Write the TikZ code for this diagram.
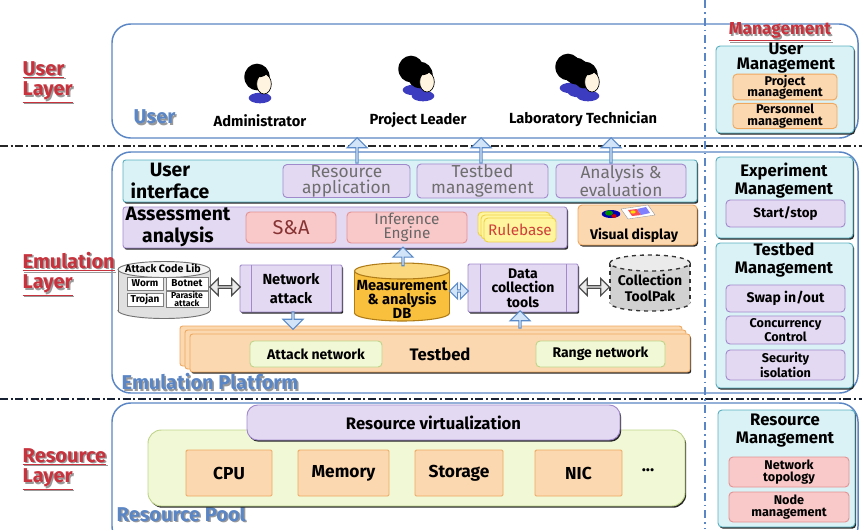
\documentclass[tikz,border=0pt]{standalone}
\usepackage{fontspec}
\setmainfont{Fira Sans}
\usetikzlibrary{shapes.geometric,shapes.arrows,shadows,calc}

\definecolor{frameblue}{HTML}{5B86C5}
\definecolor{layerred}{HTML}{C8323C}
\definecolor{cyanfill}{HTML}{DAF2F6}
\definecolor{cyanline}{HTML}{5AAFC0}
\definecolor{purplefill}{HTML}{E4D9F2}
\definecolor{purpleline}{HTML}{A08ACB}
\definecolor{pinkfill}{HTML}{F9C8C8}
\definecolor{pinkline}{HTML}{E39393}
\definecolor{orangefill}{HTML}{FCD8B0}
\definecolor{orangeline}{HTML}{EFA860}
\definecolor{greenfill}{HTML}{F1F8D6}
\definecolor{greenline}{HTML}{BFD48A}
\definecolor{dbfill}{HTML}{F8C03C}
\definecolor{dbtop}{HTML}{FBD77E}
\definecolor{dbline}{HTML}{B07C18}
\definecolor{arrowfill}{HTML}{D2E5F8}
\definecolor{arrowline}{HTML}{5B8AC8}
\definecolor{textgray}{HTML}{6E6E6E}
\definecolor{bodyblue}{HTML}{3C3CC0}
\definecolor{skin}{HTML}{FFF4E0}
\definecolor{ruleyellow}{HTML}{FFF59E}
\definecolor{ruleedge}{HTML}{EED24A}
\definecolor{rulered}{HTML}{D0403A}

\newcommand\fsz[2]{\fontsize{#1}{#2}\selectfont}
% box from corner (x1,y1) to (x2,y2): name, x1, y1, x2, y2, style, text
\newcommand\bx[7]{\node[#6,minimum width={(#4-#2)*0.75pt},minimum height={(#5-#3)*0.75pt}] (#1) at ({(#2+#4)/2},{(#3+#5)/2}) {#7};}
% upright cylinder: name, cx, cy, width, height, end radius, body fill, end fill, line style
\newcommand\cyl[9]{%
  \filldraw[#9, fill=#7] (#2,{#3+#5/2-#6}) ellipse [x radius={#4*0.375pt}, y radius={#6*0.75pt}];
  \fill[#7] ({#2-#4/2},{#3-#5/2+#6}) rectangle ({#2+#4/2},{#3+#5/2-#6});
  \draw[#9] ({#2-#4/2},{#3-#5/2+#6}) -- ({#2-#4/2},{#3+#5/2-#6})
            ({#2+#4/2},{#3-#5/2+#6}) -- ({#2+#4/2},{#3+#5/2-#6});
  \filldraw[#9, fill=#8] (#2,{#3-#5/2+#6}) ellipse [x radius={#4*0.375pt}, y radius={#6*0.75pt}];
  \node[inner sep=0pt, minimum width={#4*0.75pt}, minimum height={#5*0.75pt}] (#1) at (#2,#3) {};}

\tikzset{
  outer/.style={draw=frameblue, line width=1.1pt, rounded corners=14pt},
  box/.style={rectangle, rounded corners=3pt, inner sep=0.5pt, align=center, line width=0.7pt},
  hardshadow/.style={drop shadow={shadow xshift=0.9pt,shadow yshift=-1.3pt,fill=black!85,opacity=1}},
  cyanbox/.style={box, fill=cyanfill, draw=cyanline, hardshadow},
  purplebox/.style={box, fill=purplefill, draw=purpleline},
  pinkbox/.style={box, fill=pinkfill, draw=pinkline},
  orangebox/.style={box, fill=orangefill, draw=orangeline},
  greenbox/.style={box, fill=greenfill, draw=greenline},
  uparr/.style={single arrow, draw=arrowline, fill=arrowfill, line width=0.8pt,
    shape border rotate=90, minimum width=15pt, single arrow head extend=3pt, inner sep=0pt},
  downarr/.style={uparr, shape border rotate=270},
  dblarr/.style={double arrow, draw=black!70, fill=black!8, line width=0.9pt,
    minimum width=13pt, double arrow head extend=2.5pt, inner sep=0pt},
  layerlbl/.style={font=\bfseries\fsz{15}{15.5}, align=left, anchor=west},
  panelbl/.style={font=\bfseries\fsz{15}{16}, anchor=west},
  mgtitle/.style={align=center},
  smallbtn/.style={font=\bfseries\fsz{9.5}{8.5}},
  subtext/.style={text=textgray, font=\fsz{13}{12}},
  libcell/.style={box, rounded corners=0pt, fill=white, draw=black!50, line width=0.5pt, font=\bfseries\fsz{7.5}{5.5}},
  dashdot/.style={line width=1.4pt, dash pattern=on 6pt off 2pt on 1.5pt off 2pt},
  person/.pic={
    \fill[bodyblue] (1,18) ellipse [x radius=8.5pt, y radius=4pt];
    \fill[black] (-2,-3) ellipse [x radius=9.5pt, y radius=10pt];
    \filldraw[fill=skin, draw=black, line width=0.5pt] (5,4) ellipse [x radius=5.5pt, y radius=7.5pt];
    \fill[black] (-1,-8) ellipse [x radius=7pt, y radius=4pt];
  },
}

\begin{document}
\begin{tikzpicture}[x=0.75pt,y=-0.75pt]
\clip (0,0) rectangle (862,529);
\useasboundingbox (0,0) rectangle (862,529);

% ---------- layer frames ----------
\bx{userpane}{112}{24}{858}{138}{outer}{}
\bx{emupane}{112}{152}{858}{393}{outer}{}
\bx{respane}{112}{403}{858}{545}{outer}{}

\draw[dashdot, black!85] (0,146) -- (862,146);
\draw[dashdot, black!75!frameblue] (0,399) -- (862,399);
\draw[line width=1.3pt, frameblue, dash pattern=on 6pt off 3pt on 1.2pt off 3pt] (705,0) -- (705,529);

% ---------- layer names ----------
\node[layerlbl, text=black!40] at (19.5,83.5) {\underline{User}\\\underline{Layer}};
\node[layerlbl, text=layerred] (lyuser) at (18,82) {\underline{User}\\\underline{Layer}};
\node[layerlbl, text=black!40] at (19.5,275.5) {\underline{Emulation}\\\underline{Layer}};
\node[layerlbl, text=layerred] (lyemu) at (18,274) {\underline{Emulation}\\\underline{Layer}};
\node[layerlbl, text=black!40] at (19.5,470.5) {\underline{Resource}\\\underline{Layer}};
\node[layerlbl, text=layerred] (lyres) at (18,469) {\underline{Resource}\\\underline{Layer}};

\node[panelbl, text=black!40] at (130.5,118.5) {User};
\node[panelbl, text=frameblue] (lbluser) at (129,117) {User};
\node[panelbl, text=black!40] at (118.5,383.5) {Emulation Platform};
\node[panelbl, text=frameblue] (lblemu) at (117,382) {Emulation Platform};
\node[panelbl, text=black!40] at (113.5,515.5) {Resource Pool};
\node[panelbl, text=frameblue] (lblres) at (112,514) {Resource Pool};

% ---------- users ----------
\pic at (259,80) {person};
\node[font=\bfseries\fsz{11}{12}] (admin) at (260,121) {Administrator};
\pic at (413,72) {person};
\pic at (422,78) {person};
\node[font=\bfseries\fsz{11}{12}] (leader) at (418,120) {Project Leader};
\pic at (570,70) {person};
\pic at (578,74) {person};
\pic at (587,78) {person};
\node[font=\bfseries\fsz{11}{12}] (tech) at (583,119) {Laboratory Technician};

% ---------- user interface ----------
\bx{ui}{123}{160}{697}{202}{cyanbox, rounded corners=2pt}{}
\node[font=\bfseries\fsz{14.5}{16}, align=center] (uititle) at (170,181) {User\\interface};
\bx{ra}{283}{165}{410}{197}{purplebox, subtext}{Resource\\application}
\bx{tm}{417}{165}{548}{197}{purplebox, subtext}{Testbed\\management}
\bx{ae}{556}{165}{686}{197}{purplebox, subtext}{Analysis \&\\evaluation}

\node[uparr, minimum height=19pt] (up1) at (357,151) {};
\node[uparr, minimum height=19pt] (up2) at (481,151) {};
\node[uparr, minimum height=19pt] (up3) at (611,151) {};

% ---------- assessment analysis ----------
\bx{aa}{123}{207}{567}{248}{box, fill=purplefill, draw=purpleline, rounded corners=2pt, hardshadow}{}
\node[font=\bfseries\fsz{14.5}{16}, align=center] (aatitle) at (178,227) {Assessment\\analysis};
\bx{sa}{246}{212}{336}{243}{pinkbox, text=black!45!red!60!gray, font=\fsz{15}{15}}{S\&A}
\bx{ie}{347}{212}{467}{243}{pinkbox, text=black!60, font=\fsz{11.5}{9}}{Inference\\Engine}
\bx{rb3}{478}{212}{550}{236}{box, fill=ruleyellow, draw=ruleedge}{}
\bx{rb2}{481}{215}{553}{239}{box, fill=ruleyellow, draw=ruleedge}{}
\bx{rb}{484}{218}{556}{242}{box, fill=ruleyellow, draw=ruleedge, text=rulered, font=\fsz{11.5}{12}}{Rulebase}

\bx{vd}{578}{205}{697}{245}{orangebox, hardshadow}{}
\node[font=\bfseries\fsz{10.5}{12}] (vdtext) at (634,235) {Visual display};
\fill[blue!70!black] (611,214) ellipse [x radius=7pt, y radius=3pt];
\fill[green!55!black] (609,213) ellipse [x radius=3pt, y radius=2pt];
\fill[red!80!black] (614,216) ellipse [x radius=2pt, y radius=1.4pt];
\filldraw[fill=white, draw=black!40, line width=0.3pt] (621,209) -- (648,205) -- (655,215) -- (628,219) -- cycle;
\fill[red!70] (628,210) -- (637,209) -- (641,215) -- (632,216) -- cycle;
\fill[blue!50] (637,209) -- (646,207) -- (650,213) -- (641,215) -- cycle;
\fill[yellow!80!orange] (633,212) ellipse [x radius=2pt, y radius=1.2pt];

% ---------- measurement and tools ----------
\cyl{acl}{164}{290}{92}{57}{8}{black!12}{black!4}{draw=black!55, line width=0.7pt}
\node[font=\bfseries\fsz{8}{8}] (acltitle) at (163,268) {Attack Code Lib};
\bx{worm}{127}{277}{163}{290}{libcell}{Worm}
\bx{botnet}{166}{277}{208}{290}{libcell}{Botnet}
\bx{trojan}{127}{293}{163}{306}{libcell}{Trojan}
\bx{parasite}{166}{293}{208}{306}{libcell, font=\bfseries\fsz{6.5}{5}}{Parasite\\attack}

\bx{na}{240}{265}{342}{312}{purplebox, rounded corners=1pt, hardshadow, font=\bfseries\fsz{11}{14}}{Network\\attack}
\draw[purpleline, line width=0.7pt] (251,265) -- (251,312) (331,265) -- (331,312);

\cyl{db}{402}{292}{95}{58}{8}{dbfill}{dbtop}{draw=dbline, line width=0.8pt}
\node[align=center, font=\bfseries\fsz{11}{10.5}] (dbtext) at (402,299) {Measurement\\\& analysis\\DB};

\bx{dc}{468}{264}{578}{312}{purplebox, rounded corners=1pt, hardshadow, font=\bfseries\fsz{10.5}{11}}{Data\\collection\\tools}
\draw[purpleline, line width=0.7pt] (480,264) -- (480,312) (566,264) -- (566,312);

\cyl{tp}{650}{283}{80}{56}{8}{black!18}{black!8}{draw=black!80, line width=1pt, dashed}
\node[align=center, font=\bfseries\fsz{10.5}{12}] (tptext) at (650,288) {Collection\\ToolPak};

\node[dblarr, minimum height=23pt] (lnk1) at (225,287) {};
\node[dblarr, minimum height=23pt] (lnk2) at (594,287) {};
\node[double arrow, draw=arrowline, fill=arrowfill, line width=0.8pt, minimum width=12pt,
  double arrow head extend=2.5pt, inner sep=0pt, minimum height=14pt] (lnk3) at (459,291) {};
\node[uparr, minimum height=14pt] (up4) at (403,257) {};

% ---------- testbed ----------
\bx{tb3}{180}{326}{682}{366}{orangebox, rounded corners=2pt}{}
\bx{tb2}{185}{330}{686}{369}{orangebox, rounded corners=2pt}{}
\bx{tb}{190}{334}{690}{372}{orangebox, rounded corners=2pt, hardshadow}{}
\node[font=\bfseries\fsz{12.5}{13}] (tbtext) at (440,354) {Testbed};
\bx{an}{250}{341}{382}{367}{greenbox, font=\bfseries\fsz{10.5}{12}}{Attack network}
\bx{rn}{536}{341}{665}{367}{greenbox, font=\bfseries\fsz{10.5}{12}}{Range network}

\node[downarr, minimum height=13pt] (dn1) at (293,320) {};
\node[uparr, minimum height=13pt] (up5) at (520,320) {};

% ---------- management column ----------
\node[font=\bfseries\fsz{13}{14}, text=black!40] at (781.5,33.5) {\underline{Management}};
\node[font=\bfseries\fsz{13}{14}, text=layerred] (mgmt) at (780,32) {\underline{Management}};

\bx{umg}{716}{46}{854}{133}{cyanbox}{}
\node[mgtitle, font=\bfseries\fsz{12.5}{11}] (umgt) at (786,58) {User\\Management};
\bx{pm}{733}{75}{837}{99}{orangebox, smallbtn}{Project\\management}
\bx{psm}{733}{104}{837}{128}{orangebox, smallbtn}{Personnel\\management}

\bx{emg}{716}{157}{853}{238}{cyanbox}{}
\node[mgtitle, font=\bfseries\fsz{12.5}{13.5}] (emgt) at (784,181) {Experiment\\Management};
\bx{ss}{726}{200}{845}{227}{purplebox, font=\bfseries\fsz{10}{11}}{Start/stop}

\bx{tmg}{716}{243}{853}{388}{cyanbox}{}
\node[mgtitle, font=\bfseries\fsz{12.5}{13.5}] (tmgt) at (784,260) {Testbed\\Management};
\bx{sw}{726}{285}{845}{312}{purplebox, font=\bfseries\fsz{10.5}{11}}{Swap in/out}
\bx{cc}{726}{316}{845}{344}{purplebox, smallbtn}{Concurrency\\Control}
\bx{si}{726}{350}{845}{380}{purplebox, smallbtn}{Security\\isolation}

\bx{rmg}{718}{410}{855}{527}{cyanbox}{}
\node[mgtitle, font=\bfseries\fsz{12.5}{13.5}] (rmgt) at (785,431) {Resource\\Management};
\bx{nt}{729}{457}{849}{487}{pinkbox, smallbtn}{Network\\topology}
\bx{nm}{729}{492}{849}{522}{pinkbox, smallbtn}{Node\\management}

% ---------- resource pool ----------
\bx{rp}{148}{430}{685}{506}{greenbox, rounded corners=10pt, hardshadow}{}
\bx{rv}{247}{405}{620}{440}{purplebox, rounded corners=8pt, hardshadow, font=\bfseries\fsz{12.5}{13}}{Resource virtualization}
\bx{cpu}{186}{450}{272}{496}{orangebox, rounded corners=1pt, font=\bfseries\fsz{13}{14}}{CPU}
\bx{mem}{298}{450}{389}{496}{orangebox, rounded corners=1pt, font=\bfseries\fsz{13}{14}}{Memory}
\bx{sto}{415}{450}{503}{496}{orangebox, rounded corners=1pt, font=\bfseries\fsz{13}{14}}{Storage}
\bx{nic}{535}{450}{622}{496}{orangebox, rounded corners=1pt, font=\bfseries\fsz{13}{14}}{NIC}
\node[font=\bfseries\fsz{13}{14}] (more) at (648,470) {...};

\end{tikzpicture}
\end{document}
